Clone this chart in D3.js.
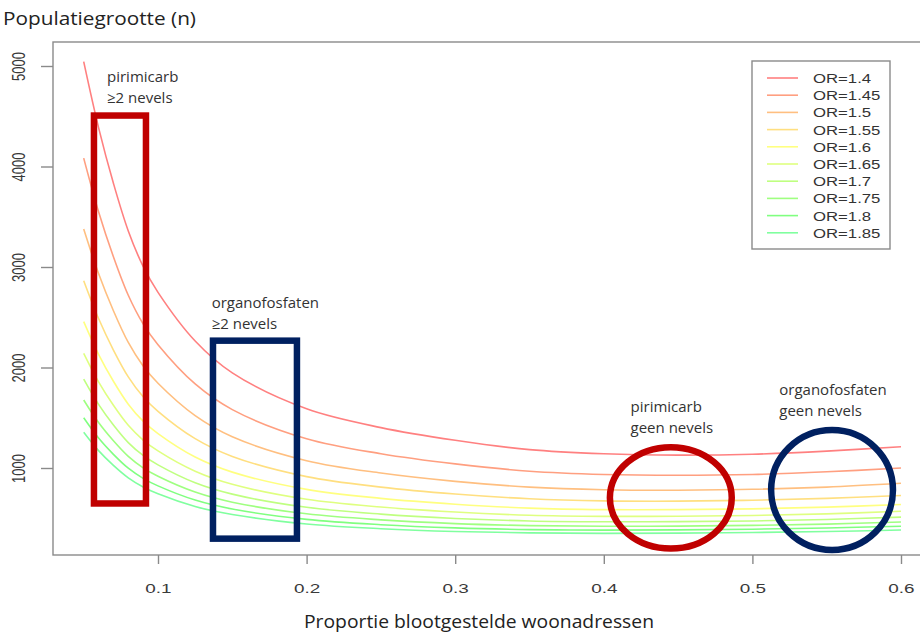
<!DOCTYPE html>
<html>
<head>
<meta charset="utf-8">
<script src="https://cdn.jsdelivr.net/npm/d3@7"></script>
<style>
  body { margin: 0; background: #fff; }
  svg { display: block; }
</style>
</head>
<body>
<div id="chart"></div>
<script>
// proportion of exposed addresses (x) and required population size per odds ratio
const props = [0.05, 0.06, 0.07, 0.08, 0.09, 0.1, 0.125, 0.15, 0.2, 0.25, 0.3, 0.35, 0.4, 0.45, 0.5, 0.55, 0.6];

const nOR140 = [5043, 4387, 3833, 3359, 3006, 2748, 2264, 1947, 1589, 1402, 1276, 1183, 1142, 1128, 1137, 1168, 1212];
const nOR145 = [4083, 3550, 3102, 2719, 2434, 2226, 1836, 1581, 1291, 1142, 1041, 968, 936, 928, 936, 962, 1000];
const nOR150 = [3378, 2935, 2565, 2249, 2015, 1843, 1521, 1311, 1073, 950, 867, 810, 784, 779, 788, 810, 848];
const nOR155 = [2864, 2487, 2174, 1907, 1709, 1564, 1292, 1115, 914, 810, 741, 694, 673, 670, 679, 698, 726];
const nOR160 = [2456, 2131, 1863, 1635, 1466, 1342, 1109, 959, 787, 698, 640, 601, 586, 586, 593, 611, 637];
const nOR165 = [2141, 1857, 1624, 1425, 1278, 1170, 968, 838, 689, 612, 562, 530, 519, 520, 528, 544, 570];
const nOR170 = [1884, 1633, 1428, 1253, 1125, 1031, 853, 740, 609, 541, 498, 473, 465, 466, 473, 488, 511];
const nOR175 = [1677, 1452, 1271, 1116, 1002, 918, 761, 660, 544, 484, 447, 427, 420, 422, 429, 442, 463];
const nOR180 = [1500, 1298, 1136, 998, 897, 822, 681, 592, 489, 436, 404, 387, 382, 384, 391, 403, 421];
const nOR185 = [1356, 1173, 1026, 902, 811, 743, 617, 537, 443, 396, 368, 354, 350, 352, 358, 368, 383];

const orLabels = ["OR=1.4", "OR=1.45", "OR=1.5", "OR=1.55", "OR=1.6", "OR=1.65", "OR=1.7", "OR=1.75", "OR=1.8", "OR=1.85"];
const seriesN = [nOR140, nOR145, nOR150, nOR155, nOR160, nOR165, nOR170, nOR175, nOR180, nOR185];
const colors = ["#ff8080", "#ff9f80", "#ffbf80", "#ffdf80", "#ffff80", "#dfff80", "#bfff80", "#9fff80", "#80ff80", "#80ff9f"];

const xTicks = [0.1, 0.2, 0.3, 0.4, 0.5, 0.6];
const yTicks = [1000, 2000, 3000, 4000, 5000];

const width = 920;
const height = 634;

const svg = d3.select("#chart").append("svg")
  .attr("width", width)
  .attr("height", height);

const x = d3.scaleLinear().domain([0.1, 0.6]).range([158, 901]);
const y = d3.scaleLinear().domain([1000, 5000]).range([468, 66]);

const frame = { left: 53, top: 42, bottom: 555 };

// plot frame (right edge runs off the picture)
svg.append("rect")
  .attr("x", frame.left)
  .attr("y", frame.top)
  .attr("width", 900)
  .attr("height", frame.bottom - frame.top)
  .attr("fill", "none")
  .attr("stroke", "#8a8a8a")
  .attr("stroke-width", 1.4);

// axes
const yAxis = svg.append("g")
  .attr("transform", `translate(${frame.left},0)`)
  .call(d3.axisLeft(y).tickValues(yTicks).tickSize(12).tickFormat(d3.format("d")));
yAxis.select(".domain").remove();
yAxis.selectAll(".tick line").attr("stroke", "#8a8a8a").attr("stroke-width", 1.4);
yAxis.selectAll(".tick text")
  .attr("x", null).attr("dy", null)
  .attr("text-anchor", "middle")
  .attr("transform", "translate(-28,0) scale(1.4,1) rotate(-90)")
  .attr("fill", "#3a3a3a")
  .style("font-family", "'Liberation Sans', Arial, sans-serif")
  .style("font-size", "13px");

const xAxis = svg.append("g")
  .attr("transform", `translate(0,${frame.bottom})`)
  .call(d3.axisBottom(x).tickValues(xTicks).tickSize(9).tickFormat(d3.format(".1f")));
xAxis.select(".domain").remove();
xAxis.selectAll(".tick line").attr("stroke", "#8a8a8a").attr("stroke-width", 1.4);
xAxis.selectAll(".tick text")
  .attr("y", null).attr("dy", null)
  .attr("transform", "translate(0,38) scale(1.4,1)")
  .attr("fill", "#3a3a3a")
  .style("font-family", "'Liberation Sans', Arial, sans-serif")
  .style("font-size", "13.5px");

// curves
const line = d3.line()
  .x((d, i) => x(props[i]))
  .y(d => y(d))
  .curve(d3.curveCatmullRom.alpha(0.5));

svg.append("g").selectAll("path")
  .data(seriesN)
  .join("path")
  .attr("d", d => line(d))
  .attr("fill", "none")
  .attr("stroke", (d, i) => colors[i])
  .attr("stroke-width", 1.6);

// legend
const legend = svg.append("g").attr("transform", "translate(752,61)");
legend.append("rect")
  .attr("width", 138)
  .attr("height", 188)
  .attr("fill", "#fff")
  .attr("stroke", "#8a8a8a")
  .attr("stroke-width", 1.4);

const items = legend.selectAll("g.item")
  .data(orLabels)
  .join("g")
  .attr("class", "item")
  .attr("transform", (d, i) => `translate(0,${17 + i * 17.2})`);

items.append("line")
  .attr("x1", 15).attr("x2", 46)
  .attr("stroke", (d, i) => colors[i])
  .attr("stroke-width", 1.6);

items.append("text")
  .attr("transform", "translate(61,5) scale(1.24,1)")
  .attr("fill", "#333")
  .style("font-family", "'Liberation Sans', Arial, sans-serif")
  .style("font-size", "13.5px")
  .text(d => d);

// highlighted regions
const red = "#c00000";
const navy = "#002060";

svg.append("rect")
  .attr("x", x(0.0569))
  .attr("y", y(4507))
  .attr("width", x(0.0919) - x(0.0569))
  .attr("height", y(647) - y(4507))
  .attr("fill", "none")
  .attr("stroke", red)
  .attr("stroke-width", 6.5);

svg.append("rect")
  .attr("x", x(0.137))
  .attr("y", y(2267))
  .attr("width", x(0.1935) - x(0.137))
  .attr("height", y(297) - y(2267))
  .attr("fill", "none")
  .attr("stroke", navy)
  .attr("stroke-width", 6.5);

svg.append("ellipse")
  .attr("cx", x(0.4451))
  .attr("cy", y(703))
  .attr("rx", x(0.4451 + 0.041) - x(0.4451))
  .attr("ry", y(703 - 504) - y(703))
  .attr("fill", "none")
  .attr("stroke", red)
  .attr("stroke-width", 6.5);

svg.append("ellipse")
  .attr("cx", x(0.5536))
  .attr("cy", y(781))
  .attr("rx", x(0.5536 + 0.041) - x(0.5536))
  .attr("ry", y(781 - 597) - y(781))
  .attr("fill", "none")
  .attr("stroke", navy)
  .attr("stroke-width", 6.5);

// annotation labels
const notes = [
  { p: 0.0657, v: 4838, lines: ["pirimicarb", "≥2 nevels"] },
  { p: 0.1361, v: 2589, lines: ["organofosfaten", "≥2 nevels"] },
  { p: 0.418, v: 1560, lines: ["pirimicarb", "geen nevels"] },
  { p: 0.5181, v: 1726, lines: ["organofosfaten", "geen nevels"] }
];

notes.forEach(n => {
  const t = svg.append("text")
    .attr("x", x(n.p))
    .attr("y", y(n.v))
    .attr("fill", "#333")
    .style("font-family", "'Open Sans', sans-serif")
    .style("font-size", "15px");
  n.lines.forEach((l, i) => {
    t.append("tspan")
      .attr("x", x(n.p))
      .attr("dy", i === 0 ? 0 : 21)
      .text(l);
  });
});

// axis titles
svg.append("text")
  .attr("x", 3)
  .attr("y", 25)
  .attr("fill", "#222")
  .attr("textLength", 193)
  .attr("lengthAdjust", "spacingAndGlyphs")
  .style("font-family", "'Open Sans', sans-serif")
  .style("font-size", "19px")
  .text("Populatiegrootte (n)");

svg.append("text")
  .attr("x", 304)
  .attr("y", 628)
  .attr("fill", "#222")
  .attr("textLength", 350)
  .attr("lengthAdjust", "spacingAndGlyphs")
  .style("font-family", "'Open Sans', sans-serif")
  .style("font-size", "19px")
  .text("Proportie blootgestelde woonadressen");
</script>
</body>
</html>
